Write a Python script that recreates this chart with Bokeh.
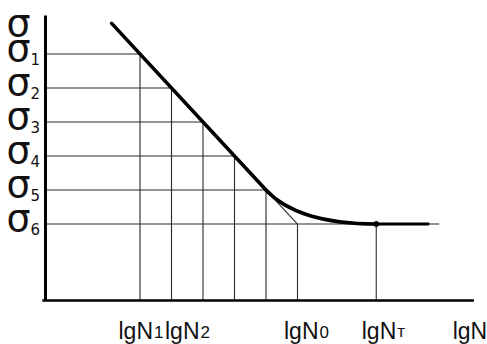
from bokeh.plotting import figure
from bokeh.models import Range1d
from bokeh.core.properties import value
from bokeh.embed import file_html
from bokeh.resources import INLINE

# ---- data (abstract units: lgN along x, sigma along y) ----
sigma_levels = [7.25, 6.25, 5.25, 4.25, 3.25, 2.25]      # σ1 .. σ6
sigma_subs = ["1", "2", "3", "4", "5", "6"]
lgN_levels = [3.0, 4.0, 5.0, 6.0, 7.0]                   # lgN where σ1..σ5 meet the curve
lgN0 = 8.0                                               # linear extension meets σ6
lgNT = 10.5                                              # curve becomes flat
x_tick_pos = [3.0, 4.0, 8.0, 10.5]
x_tick_main = ["lgN", "lgN", "lgN", "lgN"]
x_tick_subs = ["1", "2", "0", "т"]
curve_start = [2.1, 8.15]
curve_end_x = 12.15
sigma6_line_end = 12.5
y_axis_top = 8.38
x_axis_end = 13.6
x_axis_title = "lgN"
y_axis_title = "σ"

# ---- figure ----
W, H = 487, 344
p = figure(width=W, height=H, output_backend="svg", toolbar_location=None,
           x_range=Range1d(-1.4286, 14.032), y_range=Range1d(-1.294, 8.8235),
           x_axis_type=None, y_axis_type=None, min_border=0)
p.grid.visible = False
p.outline_line_color = None
p.background_fill_color = "white"
p.border_fill_color = "white"

grid_col = "#2a2a2a"
gw = 1.1

# horizontal construction lines σ1..σ5
p.segment(x0=[0] * 5, y0=sigma_levels[:5], x1=lgN_levels, y1=sigma_levels[:5],
          line_color=grid_col, line_width=gw)
# σ6 line
p.segment(x0=[0], y0=[sigma_levels[5]], x1=[sigma6_line_end], y1=[sigma_levels[5]],
          line_color=grid_col, line_width=gw)
# vertical lines
p.segment(x0=lgN_levels, y0=[0] * 5, x1=lgN_levels, y1=sigma_levels[:5],
          line_color=grid_col, line_width=gw)
p.segment(x0=[lgN0, lgNT], y0=[0, 0], x1=[lgN0, lgNT], y1=[sigma_levels[5]] * 2,
          line_color=grid_col, line_width=gw)
# thin linear extension to lgN0
p.segment(x0=[lgN_levels[-1]], y0=[sigma_levels[4]], x1=[lgN0], y1=[sigma_levels[5]],
          line_color=grid_col, line_width=gw)

# fatigue curve
cw = 3.6
p.line([curve_start[0], lgN_levels[-1]], [curve_start[1], sigma_levels[4]],
       line_color="black", line_width=cw, line_cap="round")
p.quadratic(x0=[lgN_levels[-1]], y0=[sigma_levels[4]], x1=[lgNT], y1=[sigma_levels[5]],
            cx=[lgN0], cy=[sigma_levels[5]], line_color="black", line_width=cw,
            line_cap="round")
p.line([lgNT, curve_end_x], [sigma_levels[5]] * 2, line_color="black",
       line_width=cw - 0.8, line_cap="round")
p.scatter([lgNT], [sigma_levels[5]], size=5, color="black")

# axes
p.line([0, 0], [0, y_axis_top], line_color="black", line_width=3)
p.line([-0.1, x_axis_end], [0, 0], line_color="black", line_width=2.5)

# y labels
sig_font = value("DejaVu Sans")
p.text(x=[0] * 6, y=sigma_levels, text=[y_axis_title] * 6, x_offset=-27, y_offset=-6,
       text_align="center", text_baseline="alphabetic", text_font=sig_font,
       text_font_size="38px", text_color="#111")
p.text(x=[0] * 6, y=sigma_levels, text=sigma_subs, x_offset=-15, y_offset=5,
       text_align="left", text_baseline="alphabetic", text_font=sig_font,
       text_font_size="15px", text_color="#111")
p.text(x=[0], y=[y_axis_top], text=[y_axis_title], x_offset=-27, y_offset=7,
       text_align="center", text_baseline="alphabetic", text_font=sig_font,
       text_font_size="38px", text_color="#111")

# x labels
lab_font = value("Liberation Sans")
main_off = [13, 28, 21, 20]
p.text(x=x_tick_pos, y=[0] * 4, text=x_tick_main, x_offset=main_off, y_offset=30,
       text_align="right", text_baseline="alphabetic", text_font=lab_font,
       text_font_size="23px", text_color="#111")
p.text(x=x_tick_pos, y=[0] * 4, text=x_tick_subs, x_offset=[o + 1 for o in main_off],
       y_offset=31, text_align="left", text_baseline="alphabetic", text_font=lab_font,
       text_font_size="17px", text_color="#111")
p.text(x=[x_axis_end], y=[0], text=[x_axis_title], x_offset=-4, y_offset=30,
       text_align="center", text_baseline="alphabetic", text_font=lab_font,
       text_font_size="23px", text_color="#111")

open("out.html", "w").write(file_html(p, INLINE))
